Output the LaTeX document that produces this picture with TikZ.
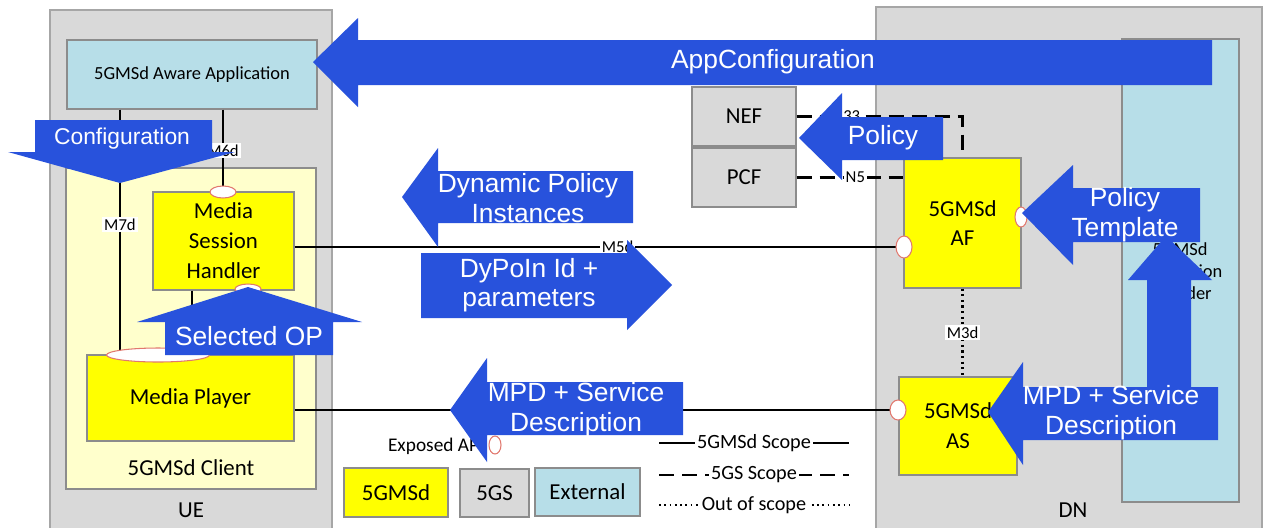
\documentclass[tikz,border=0pt]{standalone}
\usepackage{fontspec}
\setmainfont{Carlito}
\newfontfamily\arrowfont{Liberation Sans}
\usetikzlibrary{shapes.geometric}
\definecolor{gsgray}{RGB}{217,217,217}
\definecolor{extblue}{RGB}{183,222,232}
\definecolor{msyellow}{RGB}{255,255,0}
\definecolor{clientyellow}{RGB}{255,255,204}
\definecolor{arrowblue}{RGB}{40,82,220}
\definecolor{ifred}{RGB}{225,120,110}
\tikzset{area/.style={draw=black!35,fill=gsgray,line width=0.8pt,inner sep=0pt}}
\tikzset{box/.style={draw=black!45,line width=0.6pt,inner sep=0pt,align=center,font=\fontsize{13}{17}\selectfont}}
\tikzset{ifc/.style={ellipse,draw=ifred,fill=white,inner sep=0pt,line width=0.6pt}}
\tikzset{lbl/.style={fill=white,inner sep=1pt,font=\fontsize{9.5}{11}\selectfont}}
\tikzset{scopelbl/.style={fill=white,inner sep=1pt,font=\fontsize{11.5}{13}\selectfont}}
\tikzset{bigarrow/.style={fill=arrowblue}}
\tikzset{arrowtext/.style={text=white,align=center,font=\arrowfont\fontsize{15}{17}\selectfont}}
\tikzset{link/.style={line width=1.2pt}}

\begin{document}
\begin{tikzpicture}[x=0.2mm,y=-0.2mm]
    \useasboundingbox (0,0) rectangle (1272,527);
    \fill[white] (0,0) rectangle (1272,527);

    % UE and DN
    \node[area,minimum width=56.4mm,minimum height=105mm] (ue) at (191,272.5) {};
    \node[font=\fontsize{13}{15}\selectfont] (uelbl) at (191,510) {UE};
    \node[area,minimum width=77.2mm,minimum height=105.6mm] (dn) at (1069,271) {};
    \node[font=\fontsize{13}{15}\selectfont] (dnlbl) at (1073,510) {DN};

    % application provider
    \node[box,fill=extblue,minimum width=23.4mm,minimum height=92.6mm] (prov) at (1180.5,270.5) {};
    \node[align=center,font=\fontsize{10.5}{12.5}\selectfont] (provlbl) at (1180,271) {5GMSd\\Application\\Provider};

    % UE side
    \node[box,fill=extblue,minimum width=50mm,minimum height=13.8mm,font=\fontsize{10.5}{12}\selectfont] (app) at (192,74.5) {5GMSd Aware Application};
    \node[box,fill=clientyellow,minimum width=50mm,minimum height=64.2mm] (client) at (191,328.5) {};
    \node[font=\fontsize{13}{15}\selectfont] (clientlbl) at (191,468) {5GMSd Client};
    \node[box,fill=msyellow,minimum width=28.2mm,minimum height=19.6mm] (msh) at (223.5,241) {Media\\Session\\Handler};
    \node[box,fill=msyellow,minimum width=41.4mm,minimum height=17.2mm] (mp) at (190.5,398) {Media Player};

    % DN side
    \node[box,fill=gsgray,minimum width=20.8mm,minimum height=11.8mm] (nef) at (744,116.5) {NEF};
    \node[box,fill=gsgray,minimum width=20.8mm,minimum height=11.8mm] (pcf) at (744,177.5) {PCF};
    \node[box,fill=msyellow,minimum width=23.4mm,minimum height=26mm] (af) at (962.5,223) {5GMSd\\AF};
    \node[box,fill=msyellow,minimum width=23.6mm,minimum height=19.6mm] (as) at (958,426) {5GMSd\\AS};

    % reference points
    \coordinate (m7) at (120,0);
    \coordinate (hp) at (192,0);
    \coordinate (mshtopc) at (223,192);
    \coordinate (mshbotc) at (248,289);
    \coordinate (afwc) at (904,247);
    \coordinate (aswc) at (898,410);

    % interfaces
    \draw[link] (app.south -| m7) -- node[lbl,pos=0.47] {M7d} (mp.north -| m7);
    \draw[link] (app.south -| mshtopc) -- node[lbl] {M6d} (mshtopc);
    \draw[link] (msh.south -| hp) -- (mp.north -| hp);
    \draw[link] (mshbotc) -- (mp.north -| mshbotc);
    \draw[link] (msh.east |- afwc) -- node[lbl,pos=0.53] {M5d} (afwc);
    \draw[link] (mp.east |- aswc) -- (aswc);
    \draw[link,dash pattern=on 3mm off 1.6mm] (nef.east) -| node[lbl,pos=0.15] {N33} (af.north);
    \draw[link,dash pattern=on 3mm off 1.6mm] (pcf.east) -- node[lbl,pos=0.55] {N5} (af.west |- pcf.east);
    \draw[link,dotted] (af.south) -- node[lbl] {M3d} (af.south |- as.north);

    % exposed APIs
    \node[ifc,minimum width=5.2mm,minimum height=2.4mm] (mshtop) at (mshtopc) {};
    \node[ifc,minimum width=5.2mm,minimum height=2mm] (mshbot) at (mshbotc) {};
    \node[ifc,minimum width=20.6mm,minimum height=2.8mm] (mptop) at (158,355) {};
    \node[ifc,minimum width=3.2mm,minimum height=4.4mm] (afw) at (afwc) {};
    \node[ifc,minimum width=2.4mm,minimum height=4mm] (afe) at (1021,217) {};
    \node[ifc,minimum width=3.2mm,minimum height=4mm] (asw) at (aswc) {};

    % legend
    \node[font=\fontsize{11}{13}\selectfont] (lgapi) at (436,446) {Exposed API};
    \node[ifc,minimum width=2.4mm,minimum height=3.6mm] (lgifc) at (495,445) {};
    \node[box,fill=msyellow,minimum width=20.8mm,minimum height=9.8mm] (lgms) at (396,492.5) {5GMSd};
    \node[box,fill=gsgray,minimum width=13.8mm,minimum height=9.6mm] (lggs) at (494.5,493) {5GS};
    \node[box,fill=extblue,minimum width=21mm,minimum height=9.6mm] (lgext) at (587.5,492) {External};
    \coordinate (lga1) at (659,443);
    \coordinate (lgb1) at (849,443);
    \coordinate (lga2) at (659,475);
    \coordinate (lgb2) at (849,475);
    \coordinate (lga3) at (659,505);
    \coordinate (lgb3) at (849,505);
    \draw[line width=1pt] (lga1) -- node[scopelbl] {5GMSd Scope} (lgb1);
    \draw[line width=1pt,dash pattern=on 3mm off 1.6mm] (lga2) -- node[scopelbl] {5GS Scope} (lgb2);
    \draw[line width=1pt,dotted] (lga3) -- node[scopelbl] {Out of scope} (lgb3);

    % AppConfiguration
    \fill[bigarrow] (313,62) -- (358,18) -- (358,40) -- (1212,40) -- (1212,85) -- (358,85) -- (358,107) -- cycle;
    \node[arrowtext] (appcfg) at (773,62) {AppConfiguration};

    % Configuration
    \fill[bigarrow] (35,120) -- (212,120) -- (212,152) -- (235,152) -- (120,183) -- (8,152) -- (35,152) -- cycle;
    \node[arrowtext,font=\arrowfont\fontsize{13}{15}\selectfont] (cfg) at (122,139) {Configuration};

    % Selected OP
    \fill[bigarrow] (165,355) -- (165,322) -- (137,322) -- (248,287) -- (362,322) -- (333,322) -- (333,355) -- cycle;
    \node[arrowtext] (selop) at (249,336) {Selected OP};

    % Dynamic Policy Instances
    \fill[bigarrow] (402,197) -- (438,148) -- (438,171) -- (633,171) -- (633,223) -- (438,223) -- (438,247) -- cycle;
    \node[arrowtext] (dpi) at (528,198) {Dynamic Policy\\Instances};

    % DyPoIn Id + parameters
    \fill[bigarrow] (672,285) -- (627,240) -- (627,253) -- (421,253) -- (421,318) -- (627,318) -- (627,330) -- cycle;
    \node[arrowtext,font=\arrowfont\fontsize{15}{16.5}\selectfont] (dypo) at (529,285) {DyPoIn Id +\\parameters};

    % Policy
    \fill[bigarrow] (799,138) -- (842,93) -- (842,117) -- (943,117) -- (943,160) -- (842,160) -- (842,180) -- cycle;
    \node[arrowtext] (pol) at (883,138) {Policy};

    % Policy Template
    \fill[bigarrow] (1022,213) -- (1073,165) -- (1073,188) -- (1200,188) -- (1200,242) -- (1073,242) -- (1073,265) -- cycle;
    \node[arrowtext] (poltpl) at (1125,215) {Policy\\Template};

    % MPD + Service Description (middle)
    \fill[bigarrow] (450,410) -- (487,358) -- (487,382) -- (683,382) -- (683,435) -- (487,435) -- (487,462) -- cycle;
    \node[arrowtext] (mpd) at (576,410) {MPD + Service\\Description};

    % MPD + Service Description (provider)
    \fill[bigarrow] (988,412) -- (1023,362) -- (1023,387) -- (1147,387) -- (1147,280) -- (1128,280) -- (1166,236) -- (1212,280) -- (1191,280) -- (1191,387) -- (1218,387) -- (1218,440) -- (1023,440) -- (1023,465) -- cycle;
    \node[arrowtext] (mpdprov) at (1111,413) {MPD + Service\\Description};
\end{tikzpicture}
\end{document}
